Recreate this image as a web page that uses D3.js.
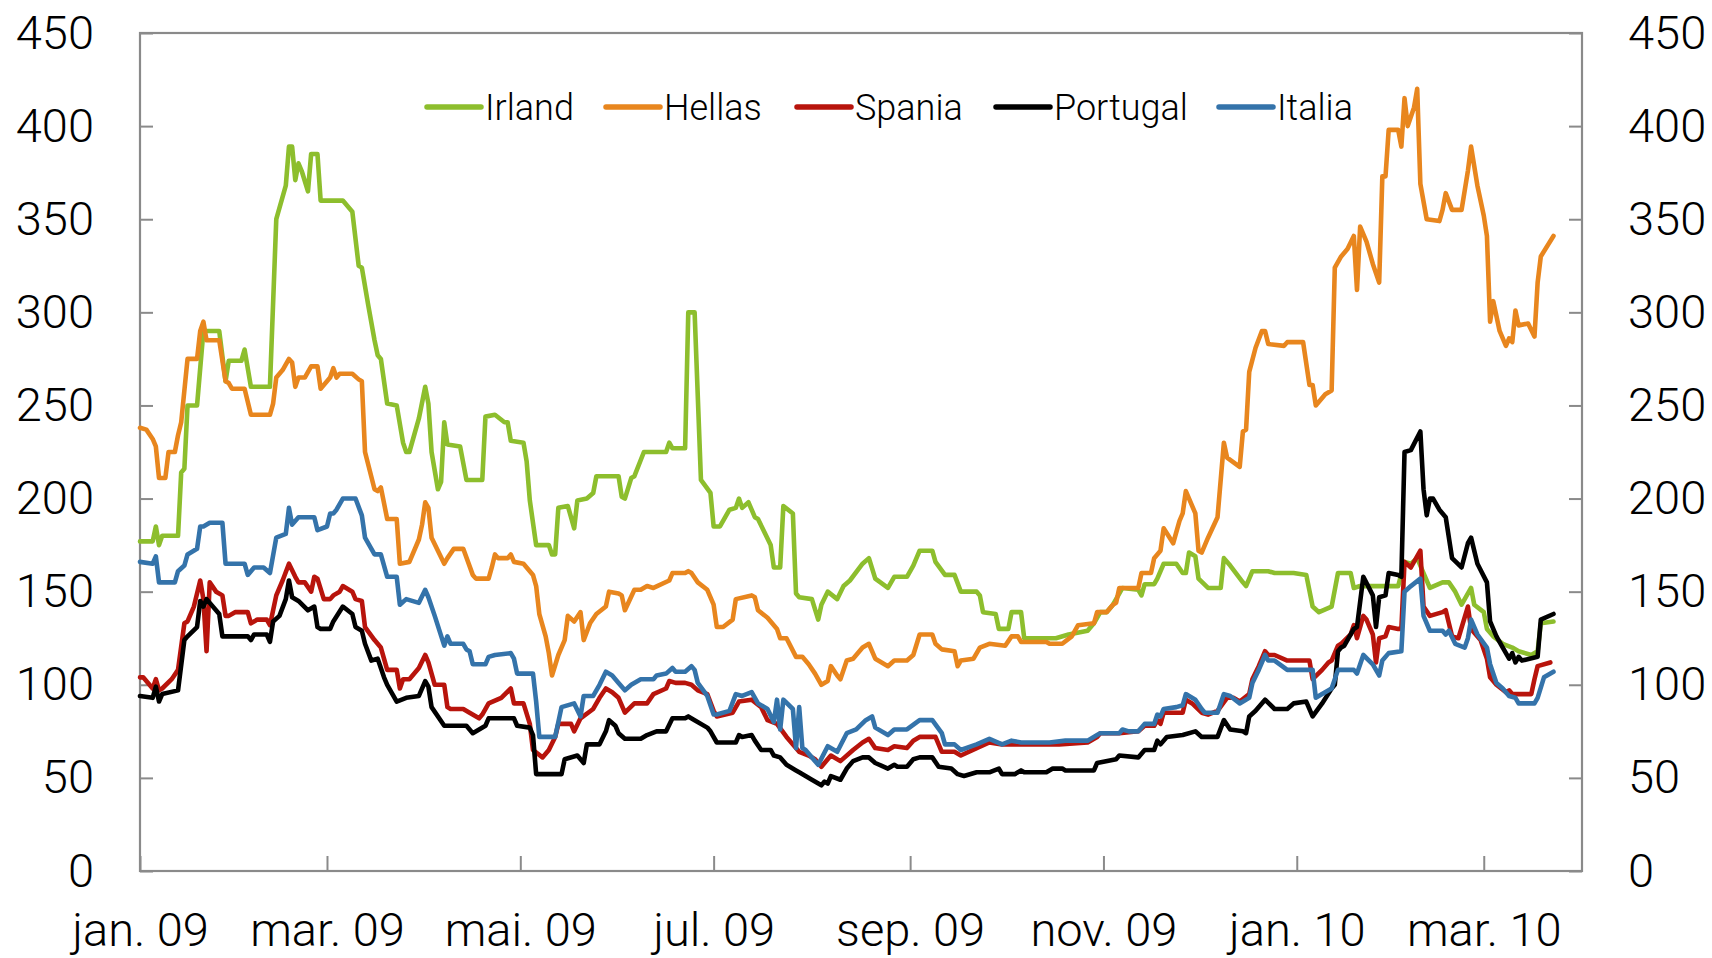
<!DOCTYPE html>
<html>
<head>
<meta charset="utf-8">
<script src="https://cdn.jsdelivr.net/npm/d3@7"></script>
<style>
  html, body { margin: 0; padding: 0; background: #fff; }
  svg text { font-family: Roboto, "Liberation Sans", Arial, sans-serif; font-weight: 300; fill: #000; }
</style>
</head>
<body>
<svg id="chart" width="1712" height="958"></svg>
<script>
// ---- Data (basis points) ----
const seriesNames = ["Irland", "Hellas", "Spania", "Portugal", "Italia"];
const seriesColors = ["#8dbe2d", "#e8861e", "#b8140c", "#000000", "#3473aa"];

const irland = [
["2009-01-01",177],["2009-01-05",177],["2009-01-06",185],["2009-01-07",175],["2009-01-08",180],["2009-01-13",180],
["2009-01-14",214],["2009-01-15",216],["2009-01-16",250],["2009-01-19",250],["2009-01-21",290],["2009-01-26",290],
["2009-01-28",263],["2009-01-29",274],["2009-02-02",274],["2009-02-03",280],["2009-02-05",260],["2009-02-11",260],
["2009-02-13",350],["2009-02-16",368],["2009-02-17",389],["2009-02-18",389],["2009-02-19",371],["2009-02-20",380],
["2009-02-21",376],["2009-02-23",365],["2009-02-24",385],["2009-02-26",385],["2009-02-27",360],["2009-03-06",360],
["2009-03-09",354],["2009-03-11",325],["2009-03-12",324],["2009-03-14",304],["2009-03-16",285],["2009-03-17",277],
["2009-03-18",275],["2009-03-20",251],["2009-03-23",250],["2009-03-25",230],["2009-03-26",225],["2009-03-27",225],
["2009-03-30",243],["2009-04-01",260],["2009-04-02",251],["2009-04-03",225],["2009-04-05",205],["2009-04-06",209],
["2009-04-07",241],["2009-04-08",229],["2009-04-12",228],["2009-04-14",210],["2009-04-19",210],["2009-04-20",244],
["2009-04-23",245],["2009-04-26",241],["2009-04-27",241],["2009-04-28",231],["2009-05-02",230],["2009-05-03",220],
["2009-05-04",199],["2009-05-06",175],["2009-05-10",175],["2009-05-11",170],["2009-05-12",170],["2009-05-13",195],
["2009-05-16",196],["2009-05-18",184],["2009-05-19",199],["2009-05-22",200],["2009-05-24",203],["2009-05-25",212],
["2009-06-01",212],["2009-06-02",201],["2009-06-03",200],["2009-06-05",211],["2009-06-06",212],["2009-06-09",225],
["2009-06-16",225],["2009-06-17",230],["2009-06-18",227],["2009-06-22",227],["2009-06-23",300],["2009-06-25",300],
["2009-06-27",210],["2009-06-30",203],["2009-07-01",185],["2009-07-03",185],["2009-07-06",194],["2009-07-08",195],
["2009-07-09",200],["2009-07-10",195],["2009-07-12",198],["2009-07-14",190],["2009-07-15",189],["2009-07-17",182],
["2009-07-19",175],["2009-07-20",163],["2009-07-22",163],["2009-07-23",196],["2009-07-26",192],["2009-07-27",149],
["2009-07-28",147],["2009-08-01",146],["2009-08-03",135],["2009-08-04",143],["2009-08-06",150],["2009-08-09",146],
["2009-08-11",153],["2009-08-13",156],["2009-08-17",165],["2009-08-19",168],["2009-08-21",157],["2009-08-25",152],
["2009-08-27",158],["2009-08-31",158],["2009-09-02",164],["2009-09-04",172],["2009-09-08",172],["2009-09-09",166],
["2009-09-12",159],["2009-09-15",159],["2009-09-17",150],["2009-09-22",150],["2009-09-23",148],["2009-09-24",139],
["2009-09-28",138],["2009-09-29",130],["2009-10-02",130],["2009-10-03",139],["2009-10-06",139],["2009-10-07",125],
["2009-10-17",125],["2009-10-21",127],["2009-10-27",129],["2009-10-29",133],["2009-10-31",139],["2009-11-02",139],
["2009-11-04",143],["2009-11-05",146],["2009-11-07",152],["2009-11-12",151],["2009-11-13",148],["2009-11-14",154],
["2009-11-17",154],["2009-11-18",157],["2009-11-20",165],["2009-11-24",165],["2009-11-26",160],["2009-11-27",160],
["2009-11-28",171],["2009-11-30",169],["2009-12-01",157],["2009-12-04",152],["2009-12-08",152],["2009-12-09",168],
["2009-12-11",164],["2009-12-15",155],["2009-12-16",153],["2009-12-18",161],["2009-12-23",161],["2009-12-25",160],
["2009-12-31",160],["2010-01-04",159],["2010-01-06",142],["2010-01-08",139],["2010-01-12",142],["2010-01-14",160],
["2010-01-18",160],["2010-01-19",152],["2010-01-21",153],["2010-02-02",153],["2010-02-04",166],["2010-02-06",165],
["2010-02-08",168],["2010-02-10",160],["2010-02-12",152],["2010-02-16",155],["2010-02-18",155],["2010-02-20",150],
["2010-02-22",143],["2010-02-25",152],["2010-02-26",143],["2010-03-01",139],["2010-03-02",130],["2010-03-04",126],
["2010-03-07",122],["2010-03-10",120],["2010-03-12",118],["2010-03-16",116],["2010-03-18",118],["2010-03-19",133],
["2010-03-23",134]
];

const hellas = [
["2009-01-01",238],["2009-01-03",237],["2009-01-05",232],["2009-01-06",228],["2009-01-07",211],["2009-01-09",211],
["2009-01-10",225],["2009-01-12",225],["2009-01-13",234],["2009-01-14",241],["2009-01-16",275],["2009-01-19",275],
["2009-01-20",290],["2009-01-21",295],["2009-01-22",285],["2009-01-26",285],["2009-01-28",263],["2009-01-29",262],
["2009-01-30",259],["2009-02-03",259],["2009-02-05",245],["2009-02-11",245],["2009-02-12",251],["2009-02-13",265],
["2009-02-15",269],["2009-02-17",275],["2009-02-18",273],["2009-02-19",260],["2009-02-20",265],["2009-02-22",265],
["2009-02-24",271],["2009-02-26",271],["2009-02-27",259],["2009-03-02",265],["2009-03-03",270],["2009-03-04",265],
["2009-03-05",267],["2009-03-09",267],["2009-03-11",264],["2009-03-12",263],["2009-03-13",225],["2009-03-16",205],
["2009-03-17",204],["2009-03-18",206],["2009-03-20",189],["2009-03-23",189],["2009-03-24",165],["2009-03-27",166],
["2009-03-30",178],["2009-03-31",186],["2009-04-01",198],["2009-04-02",195],["2009-04-03",179],["2009-04-07",165],
["2009-04-08",168],["2009-04-10",173],["2009-04-13",173],["2009-04-16",159],["2009-04-17",157],["2009-04-21",157],
["2009-04-22",163],["2009-04-23",170],["2009-04-24",168],["2009-04-27",168],["2009-04-28",170],["2009-04-29",166],
["2009-05-02",165],["2009-05-05",159],["2009-05-06",153],["2009-05-07",138],["2009-05-09",126],["2009-05-10",117],
["2009-05-11",105],["2009-05-13",116],["2009-05-15",124],["2009-05-16",137],["2009-05-18",134],["2009-05-20",139],
["2009-05-21",124],["2009-05-23",133],["2009-05-25",138],["2009-05-28",142],["2009-05-29",150],["2009-06-01",149],
["2009-06-02",148],["2009-06-03",140],["2009-06-06",151],["2009-06-08",151],["2009-06-10",153],["2009-06-12",152],
["2009-06-17",156],["2009-06-18",160],["2009-06-22",160],["2009-06-23",161],["2009-06-24",160],["2009-06-26",155],
["2009-06-29",151],["2009-07-01",143],["2009-07-02",131],["2009-07-04",131],["2009-07-07",135],["2009-07-08",146],
["2009-07-13",148],["2009-07-14",147],["2009-07-15",140],["2009-07-18",136],["2009-07-21",130],["2009-07-22",125],
["2009-07-24",125],["2009-07-27",115],["2009-07-29",115],["2009-07-31",111],["2009-08-02",106],["2009-08-04",100],
["2009-08-06",102],["2009-08-07",110],["2009-08-09",105],["2009-08-10",103],["2009-08-12",113],["2009-08-14",114],
["2009-08-17",120],["2009-08-19",122],["2009-08-21",114],["2009-08-25",110],["2009-08-27",113],["2009-08-31",113],
["2009-09-02",116],["2009-09-04",127],["2009-09-08",127],["2009-09-09",122],["2009-09-11",119],["2009-09-15",118],
["2009-09-16",110],["2009-09-17",113],["2009-09-21",114],["2009-09-23",120],["2009-09-26",122],["2009-10-01",121],
["2009-10-03",126],["2009-10-05",126],["2009-10-06",123],["2009-10-14",123],["2009-10-15",122],["2009-10-19",122],
["2009-10-22",126],["2009-10-24",132],["2009-10-29",133],["2009-10-30",139],["2009-11-02",139],["2009-11-04",143],
["2009-11-05",144],["2009-11-06",152],["2009-11-12",152],["2009-11-13",160],["2009-11-16",160],["2009-11-17",168],
["2009-11-19",172],["2009-11-20",184],["2009-11-23",176],["2009-11-25",188],["2009-11-26",192],["2009-11-27",204],
["2009-11-30",192],["2009-12-01",172],["2009-12-02",171],["2009-12-04",179],["2009-12-07",190],["2009-12-09",230],
["2009-12-10",222],["2009-12-14",217],["2009-12-15",236],["2009-12-16",237],["2009-12-17",268],["2009-12-19",281],
["2009-12-21",290],["2009-12-22",290],["2009-12-23",283],["2009-12-28",282],["2009-12-29",284],["2010-01-03",284],
["2010-01-05",261],["2010-01-06",261],["2010-01-07",250],["2010-01-08",252],["2010-01-10",256],["2010-01-12",258],
["2010-01-13",324],["2010-01-15",330],["2010-01-17",334],["2010-01-19",341],["2010-01-20",312],["2010-01-21",346],
["2010-01-23",338],["2010-01-25",326],["2010-01-27",316],["2010-01-28",373],["2010-01-29",373],["2010-01-30",398],
["2010-02-02",398],["2010-02-03",389],["2010-02-04",415],["2010-02-05",400],["2010-02-07",410],["2010-02-08",420],
["2010-02-09",369],["2010-02-11",350],["2010-02-15",349],["2010-02-16",355],["2010-02-17",364],["2010-02-19",355],
["2010-02-22",355],["2010-02-24",376],["2010-02-25",389],["2010-02-27",368],["2010-03-01",352],["2010-03-02",341],
["2010-03-03",295],["2010-03-04",306],["2010-03-05",298],["2010-03-06",290],["2010-03-08",282],["2010-03-09",286],
["2010-03-10",284],["2010-03-11",301],["2010-03-12",293],["2010-03-15",294],["2010-03-17",287],["2010-03-18",316],
["2010-03-19",330],["2010-03-23",341]
];

const spania = [
["2009-01-01",104],["2009-01-02",104],["2009-01-05",98],["2009-01-06",103],["2009-01-07",97],["2009-01-08",98],
["2009-01-11",103],["2009-01-13",108],["2009-01-15",133],["2009-01-16",134],["2009-01-18",142],["2009-01-20",156],
["2009-01-21",146],["2009-01-22",118],["2009-01-23",155],["2009-01-25",150],["2009-01-27",148],["2009-01-28",137],
["2009-01-29",137],["2009-01-31",139],["2009-02-04",139],["2009-02-05",133],["2009-02-07",135],["2009-02-10",135],
["2009-02-11",132],["2009-02-13",148],["2009-02-15",156],["2009-02-17",165],["2009-02-19",158],["2009-02-20",155],
["2009-02-22",155],["2009-02-24",150],["2009-02-25",158],["2009-02-26",157],["2009-02-28",146],["2009-03-02",146],
["2009-03-03",148],["2009-03-05",150],["2009-03-06",153],["2009-03-09",150],["2009-03-10",146],["2009-03-12",145],
["2009-03-13",131],["2009-03-16",124],["2009-03-18",120],["2009-03-20",108],["2009-03-23",108],["2009-03-24",98],
["2009-03-25",103],["2009-03-27",103],["2009-03-30",109],["2009-04-01",116],["2009-04-02",112],["2009-04-04",100],
["2009-04-07",100],["2009-04-08",88],["2009-04-09",87],["2009-04-13",87],["2009-04-15",85],["2009-04-18",82],
["2009-04-19",84],["2009-04-21",90],["2009-04-25",93],["2009-04-28",98],["2009-04-29",90],["2009-05-02",90],
["2009-05-04",79],["2009-05-05",65],["2009-05-08",61],["2009-05-10",65],["2009-05-12",72],["2009-05-13",79],
["2009-05-17",79],["2009-05-18",75],["2009-05-20",82],["2009-05-24",87],["2009-05-26",93],["2009-05-28",98],
["2009-05-30",96],["2009-06-01",93],["2009-06-03",85],["2009-06-06",90],["2009-06-10",90],["2009-06-12",95],
["2009-06-16",98],["2009-06-17",102],["2009-06-19",101],["2009-06-22",101],["2009-06-24",100],["2009-06-26",97],
["2009-06-29",95],["2009-07-01",86],["2009-07-02",83],["2009-07-07",85],["2009-07-09",91],["2009-07-13",92],
["2009-07-16",88],["2009-07-18",81],["2009-07-21",79],["2009-07-24",72],["2009-07-28",64],["2009-07-31",62],
["2009-08-02",60],["2009-08-04",56],["2009-08-07",62],["2009-08-10",59],["2009-08-14",65],["2009-08-17",69],
["2009-08-19",71],["2009-08-21",66],["2009-08-25",65],["2009-08-27",67],["2009-08-31",66],["2009-09-02",70],
["2009-09-04",72],["2009-09-09",72],["2009-09-11",64],["2009-09-15",64],["2009-09-17",62],["2009-09-22",66],
["2009-09-26",69],["2009-09-30",68],["2009-10-06",68],["2009-10-18",68],["2009-10-27",69],["2009-10-30",72],
["2009-10-31",74],["2009-11-06",74],["2009-11-12",75],["2009-11-14",78],["2009-11-17",78],["2009-11-18",81],
["2009-11-19",79],["2009-11-20",85],["2009-11-26",85],["2009-11-27",92],["2009-11-29",90],["2009-12-02",85],
["2009-12-04",84],["2009-12-07",86],["2009-12-10",93],["2009-12-12",93],["2009-12-14",91],["2009-12-17",95],
["2009-12-18",103],["2009-12-20",110],["2009-12-22",118],["2009-12-23",116],["2009-12-25",116],["2009-12-29",113],
["2010-01-05",113],["2010-01-06",103],["2010-01-09",108],["2010-01-11",112],["2010-01-12",113],["2010-01-14",121],
["2010-01-15",122],["2010-01-18",127],["2010-01-19",132],["2010-01-20",125],["2010-01-22",137],["2010-01-23",135],
["2010-01-25",127],["2010-01-26",112],["2010-01-27",125],["2010-01-29",126],["2010-01-30",131],["2010-02-02",130],
["2010-02-03",130],["2010-02-04",166],["2010-02-06",163],["2010-02-09",172],["2010-02-10",142],["2010-02-12",137],
["2010-02-16",139],["2010-02-17",140],["2010-02-18",133],["2010-02-19",126],["2010-02-21",125],["2010-02-24",142],
["2010-02-25",130],["2010-02-28",124],["2010-03-02",114],["2010-03-03",104],["2010-03-05",100],["2010-03-08",96],
["2010-03-09",97],["2010-03-10",95],["2010-03-16",95],["2010-03-17",103],["2010-03-18",110],["2010-03-22",112]
];

const portugal = [
["2009-01-01",94],["2009-01-05",93],["2009-01-06",99],["2009-01-07",91],["2009-01-08",95],["2009-01-13",97],
["2009-01-15",124],["2009-01-16",126],["2009-01-19",131],["2009-01-20",145],["2009-01-21",142],["2009-01-22",146],
["2009-01-26",138],["2009-01-27",126],["2009-02-04",126],["2009-02-05",124],["2009-02-06",127],["2009-02-10",127],
["2009-02-11",123],["2009-02-12",134],["2009-02-14",137],["2009-02-16",146],["2009-02-17",156],["2009-02-18",147],
["2009-02-20",145],["2009-02-23",140],["2009-02-25",142],["2009-02-26",131],["2009-02-27",130],["2009-03-02",130],
["2009-03-03",134],["2009-03-06",142],["2009-03-09",138],["2009-03-10",131],["2009-03-12",129],["2009-03-13",122],
["2009-03-15",113],["2009-03-17",114],["2009-03-19",104],["2009-03-20",100],["2009-03-23",91],["2009-03-26",93],
["2009-03-30",94],["2009-04-01",102],["2009-04-02",99],["2009-04-03",88],["2009-04-07",78],["2009-04-14",78],
["2009-04-16",74],["2009-04-20",78],["2009-04-21",82],["2009-04-29",82],["2009-04-30",78],["2009-05-04",77],
["2009-05-05",73],["2009-05-06",52],["2009-05-14",52],["2009-05-15",60],["2009-05-19",62],["2009-05-21",58],
["2009-05-22",68],["2009-05-26",68],["2009-05-28",75],["2009-05-29",81],["2009-05-31",78],["2009-06-01",74],
["2009-06-03",71],["2009-06-08",71],["2009-06-10",73],["2009-06-13",75],["2009-06-16",75],["2009-06-18",82],
["2009-06-22",82],["2009-06-23",83],["2009-06-25",81],["2009-06-29",77],["2009-06-30",75],["2009-07-02",69],
["2009-07-08",69],["2009-07-09",73],["2009-07-10",72],["2009-07-13",73],["2009-07-14",70],["2009-07-16",65],
["2009-07-19",65],["2009-07-20",62],["2009-07-22",61],["2009-07-24",57],["2009-07-27",54],["2009-07-28",53],
["2009-07-30",51],["2009-08-01",49],["2009-08-04",46],["2009-08-05",48],["2009-08-06",47],["2009-08-07",51],
["2009-08-10",49],["2009-08-12",55],["2009-08-14",59],["2009-08-17",61],["2009-08-19",61],["2009-08-21",58],
["2009-08-25",55],["2009-08-27",57],["2009-08-28",56],["2009-08-31",56],["2009-09-02",60],["2009-09-04",61],
["2009-09-08",61],["2009-09-10",56],["2009-09-14",55],["2009-09-16",52],["2009-09-18",51],["2009-09-22",53],
["2009-09-26",53],["2009-09-29",55],["2009-09-30",52],["2009-10-04",52],["2009-10-06",54],["2009-10-07",53],
["2009-10-14",53],["2009-10-16",55],["2009-10-19",55],["2009-10-20",54],["2009-10-29",54],["2009-10-30",58],
["2009-11-05",60],["2009-11-06",62],["2009-11-12",61],["2009-11-14",65],["2009-11-17",65],["2009-11-18",70],
["2009-11-19",68],["2009-11-21",72],["2009-11-26",73],["2009-11-30",75],["2009-12-02",72],["2009-12-07",72],
["2009-12-09",81],["2009-12-11",76],["2009-12-15",75],["2009-12-16",74],["2009-12-17",83],["2009-12-19",86],
["2009-12-22",92],["2009-12-25",87],["2009-12-29",87],["2009-12-31",90],["2010-01-04",91],["2010-01-06",83],
["2010-01-09",90],["2010-01-12",98],["2010-01-13",100],["2010-01-14",118],["2010-01-15",120],["2010-01-16",121],
["2010-01-19",130],["2010-01-20",131],["2010-01-22",158],["2010-01-25",148],["2010-01-26",131],["2010-01-27",147],
["2010-01-29",148],["2010-01-30",160],["2010-02-02",159],["2010-02-03",158],["2010-02-04",225],["2010-02-06",226],
["2010-02-09",236],["2010-02-10",205],["2010-02-11",191],["2010-02-12",200],["2010-02-13",200],["2010-02-15",194],
["2010-02-17",190],["2010-02-19",168],["2010-02-22",163],["2010-02-24",176],["2010-02-25",179],["2010-02-27",165],
["2010-03-02",155],["2010-03-03",134],["2010-03-05",126],["2010-03-07",120],["2010-03-09",114],["2010-03-10",117],
["2010-03-11",112],["2010-03-12",115],["2010-03-13",113],["2010-03-18",115],["2010-03-19",135],["2010-03-23",138]
];

const italia = [
["2009-01-01",166],["2009-01-05",165],["2009-01-06",169],["2009-01-07",155],["2009-01-12",155],["2009-01-13",161],
["2009-01-15",164],["2009-01-16",170],["2009-01-19",173],["2009-01-20",185],["2009-01-21",185],["2009-01-23",187],
["2009-01-27",187],["2009-01-28",165],["2009-02-03",165],["2009-02-04",159],["2009-02-06",163],["2009-02-09",163],
["2009-02-11",160],["2009-02-13",179],["2009-02-16",181],["2009-02-17",195],["2009-02-18",186],["2009-02-20",190],
["2009-02-25",190],["2009-02-26",183],["2009-03-01",185],["2009-03-02",192],["2009-03-03",192],["2009-03-04",194],
["2009-03-06",200],["2009-03-10",200],["2009-03-12",191],["2009-03-13",179],["2009-03-16",170],["2009-03-18",170],
["2009-03-20",158],["2009-03-23",158],["2009-03-24",143],["2009-03-26",146],["2009-03-30",144],["2009-04-01",151],
["2009-04-02",147],["2009-04-04",137],["2009-04-07",121],["2009-04-08",126],["2009-04-09",122],["2009-04-13",122],
["2009-04-14",119],["2009-04-15",118],["2009-04-16",111],["2009-04-20",111],["2009-04-21",115],["2009-04-23",116],
["2009-04-28",117],["2009-04-29",114],["2009-04-30",106],["2009-05-05",106],["2009-05-06",91],["2009-05-07",72],
["2009-05-12",72],["2009-05-14",88],["2009-05-18",90],["2009-05-20",83],["2009-05-21",94],["2009-05-24",94],
["2009-05-26",100],["2009-05-28",107],["2009-05-30",105],["2009-06-01",101],["2009-06-03",97],["2009-06-05",100],
["2009-06-08",103],["2009-06-12",103],["2009-06-13",105],["2009-06-16",106],["2009-06-18",109],["2009-06-19",107],
["2009-06-22",107],["2009-06-24",110],["2009-06-25",108],["2009-06-26",101],["2009-06-29",94],["2009-07-01",84],
["2009-07-02",84],["2009-07-06",86],["2009-07-08",95],["2009-07-10",94],["2009-07-13",96],["2009-07-15",90],
["2009-07-18",87],["2009-07-20",80],["2009-07-21",92],["2009-07-22",76],["2009-07-23",92],["2009-07-26",87],
["2009-07-27",66],["2009-07-28",88],["2009-07-29",66],["2009-07-30",65],["2009-08-03",57],["2009-08-06",67],
["2009-08-09",64],["2009-08-12",74],["2009-08-15",76],["2009-08-18",81],["2009-08-20",83],["2009-08-21",77],
["2009-08-25",73],["2009-08-27",76],["2009-08-31",76],["2009-09-04",81],["2009-09-08",81],["2009-09-11",74],
["2009-09-12",68],["2009-09-15",68],["2009-09-17",65],["2009-09-22",68],["2009-09-26",71],["2009-09-30",68],
["2009-10-03",70],["2009-10-06",69],["2009-10-15",69],["2009-10-20",70],["2009-10-27",70],["2009-10-30",73],
["2009-10-31",74],["2009-11-06",74],["2009-11-07",76],["2009-11-09",75],["2009-11-12",75],["2009-11-14",79],
["2009-11-17",79],["2009-11-18",84],["2009-11-19",83],["2009-11-20",87],["2009-11-24",88],["2009-11-26",89],
["2009-11-27",95],["2009-11-30",92],["2009-12-02",87],["2009-12-03",85],["2009-12-07",85],["2009-12-09",95],
["2009-12-11",94],["2009-12-14",90],["2009-12-17",93],["2009-12-18",101],["2009-12-20",108],["2009-12-22",116],
["2009-12-23",113],["2009-12-25",113],["2009-12-29",108],["2010-01-06",108],["2010-01-07",93],["2010-01-09",95],
["2010-01-12",98],["2010-01-14",108],["2010-01-19",108],["2010-01-20",106],["2010-01-22",116],["2010-01-25",111],
["2010-01-27",105],["2010-01-28",113],["2010-01-30",117],["2010-02-03",118],["2010-02-04",150],["2010-02-06",153],
["2010-02-09",157],["2010-02-10",137],["2010-02-12",129],["2010-02-16",129],["2010-02-17",127],["2010-02-18",129],
["2010-02-20",122],["2010-02-23",120],["2010-02-24",125],["2010-02-25",135],["2010-02-27",127],["2010-03-02",120],
["2010-03-03",111],["2010-03-05",101],["2010-03-07",98],["2010-03-09",94],["2010-03-11",93],["2010-03-12",90],
["2010-03-17",90],["2010-03-18",93],["2010-03-20",104],["2010-03-23",107]
];

const seriesData = [irland, hellas, spania, portugal, italia];

const yTicks = [0, 50, 100, 150, 200, 250, 300, 350, 400, 450];
const xTickDates = ["2009-01-01","2009-03-01","2009-05-01","2009-07-01","2009-09-01","2009-11-01","2010-01-01","2010-03-01"];
const monthNames = ["jan","feb","mar","apr","mai","jun","jul","aug","sep","okt","nov","des"];
const xDomain = ["2009-01-01", "2010-04-01"];
const yDomain = [0, 450];

// ---- Drawing ----
const parse = d3.timeParse("%Y-%m-%d");
const svg = d3.select("#chart");
const plotLeft = 140, plotRight = 1582, plotTop = 33, plotBottom = 871;

const x = d3.scaleTime().domain(xDomain.map(parse)).range([plotLeft, plotRight]);
const y = d3.scaleLinear().domain(yDomain).range([plotBottom, plotTop]);

const axisColor = "#8a8a8a";
const fontSize = 47;

const gl = svg.append("g").attr("transform", `translate(${plotLeft},0)`)
  .call(d3.axisLeft(y).tickValues(yTicks).tickSizeInner(-13).tickSizeOuter(0).tickPadding(46).tickFormat(d3.format("d")));
const gr = svg.append("g").attr("transform", `translate(${plotRight},0)`)
  .call(d3.axisRight(y).tickValues(yTicks).tickSizeInner(-13).tickSizeOuter(0).tickPadding(46).tickFormat(d3.format("d")));
const gb = svg.append("g").attr("transform", `translate(0,${plotBottom})`)
  .call(d3.axisBottom(x).tickValues(xTickDates.map(parse)).tickSizeInner(-15).tickSizeOuter(0).tickPadding(42)
    .tickFormat(d => `${monthNames[d.getMonth()]}. ${d3.timeFormat("%y")(d)}`));

[gl, gr, gb].forEach(g => {
  g.select(".domain").remove();
  g.selectAll(".tick line").attr("stroke", axisColor).attr("stroke-width", 2);
  g.selectAll(".tick text").attr("font-size", fontSize).attr("fill", "#000")
    .attr("font-family", "Roboto, 'Liberation Sans', Arial, sans-serif");
});

svg.append("rect").attr("x", plotLeft).attr("y", plotTop)
  .attr("width", plotRight - plotLeft).attr("height", plotBottom - plotTop)
  .attr("fill", "none").attr("stroke", axisColor).attr("stroke-width", 2.2);

const line = d3.line().x(d => x(parse(d[0]))).y(d => y(d[1]));
seriesData.forEach((data, i) => {
  svg.append("path").datum(data).attr("d", line)
    .attr("fill", "none").attr("stroke", seriesColors[i]).attr("stroke-width", 4.6)
    .attr("stroke-linejoin", "round").attr("stroke-linecap", "round");
});

// Legend: item start positions follow the reference layout
const legendStarts = [427, 606, 797, 996, 1219];
const ly = 107;
const legend = svg.append("g");
seriesNames.forEach((name, i) => {
  const lx = legendStarts[i];
  legend.append("line").attr("x1", lx).attr("x2", lx + 54).attr("y1", ly).attr("y2", ly)
    .attr("stroke", seriesColors[i]).attr("stroke-width", 5.5).attr("stroke-linecap", "round");
  legend.append("text").attr("x", lx + 58).attr("y", ly + 13)
    .attr("font-size", 36).text(name);
});
</script>
</body>
</html>
